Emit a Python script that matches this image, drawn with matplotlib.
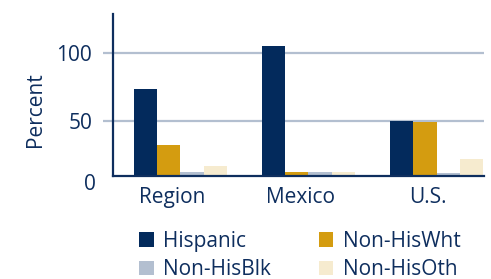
import matplotlib
matplotlib.use("Agg")
import matplotlib.pyplot as plt
import numpy as np

categories = ["Region", "Mexico", "U.S."]
series_names = ["Hispanic", "Non-HisWht", "Non-HisBlk", "Non-HisOth"]
hispanic = [73.3, 104.9, 50.0]
non_his_wht = [32.1, 12.3, 49.3]
non_his_blk = [12.3, 12.3, 11.5]
non_his_oth = [16.9, 12.3, 21.8]
y_ticks = [50, 100]

colors = ["#032a5c", "#d49c10", "#b3bfd0", "#f6ebcf"]
text_color = "#0e2e5e"
grid_color = "#b3bfd0"

plt.rcParams["font.family"] = ["Open Sans", "DejaVu Sans"]
plt.rcParams["font.size"] = 15

fig = plt.figure(figsize=(4.91, 2.79), dpi=100)
ax = fig.add_axes([113 / 491, 1 - 176 / 279, (484 - 113) / 491, (176 - 14) / 279])

x = np.arange(len(categories))
width = 0.182
series = [hispanic, non_his_wht, non_his_blk, non_his_oth]
handles = []
for i, (vals, c, name) in enumerate(zip(series, colors, series_names)):
    h = ax.bar(x + (i - 1.5) * width, vals, width, color=c, label=name, zorder=3)
    handles.append(h)

ax.set_xlim(-0.527, 2.371)
ax.set_ylim(9.3, 128.5)

ax.set_yticks(y_ticks)
ax.set_yticklabels([str(v) for v in y_ticks])
ax.yaxis.grid(True, color=grid_color, linewidth=1.6, zorder=0)
ax.tick_params(axis="y", length=7, width=1.6, color=grid_color, pad=8,
               labelcolor=text_color, labelsize=15)
ax.text(-0.046, 3.0, "0", transform=ax.get_yaxis_transform(), ha="right",
        va="center", color=text_color, fontsize=15, clip_on=False)

ax.set_xticks(x - 0.066)
ax.set_xticklabels(categories)
ax.tick_params(axis="x", length=0, pad=8, labelcolor=text_color, labelsize=15)

for s in ["top", "right"]:
    ax.spines[s].set_visible(False)
for s in ["left", "bottom"]:
    ax.spines[s].set_color(text_color)
    ax.spines[s].set_linewidth(1.6)
    ax.spines[s].set_zorder(4)

ax.set_ylabel("Percent", color=text_color, fontsize=15, va="center")
ax.yaxis.set_label_coords(-0.21, 0.407)

order = [0, 2, 1, 3]
fig.legend([handles[i] for i in order], [series_names[i] for i in order],
           ncol=2, loc="upper left", bbox_to_anchor=(139 / 491, 1 - 231 / 279),
           frameon=False, handlelength=0.7, handleheight=0.7,
           handletextpad=0.45, columnspacing=2.3, labelspacing=0.34,
           labelcolor=text_color, fontsize=15, borderpad=0, borderaxespad=0)

fig.savefig("out.png", dpi=100)
